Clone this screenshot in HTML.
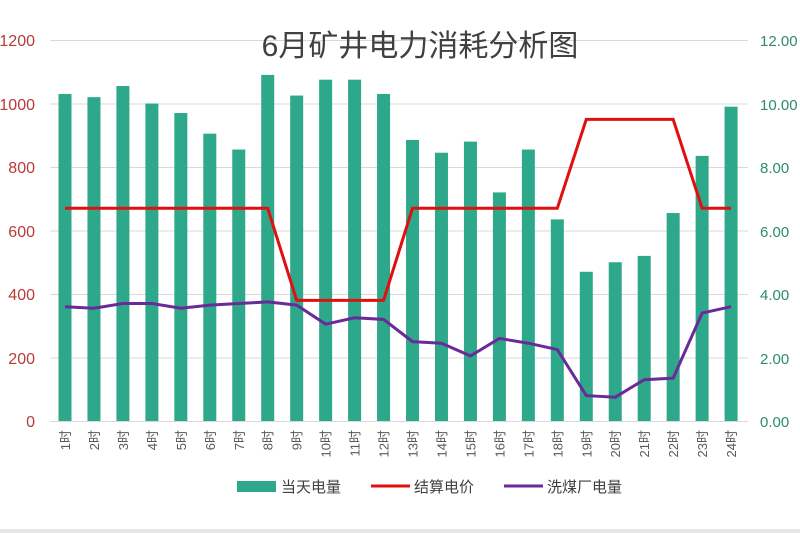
<!DOCTYPE html><html><head><meta charset="utf-8"><style>body{margin:0;background:#fff}svg{display:block}text{font-family:"Liberation Sans","Noto Sans CJK SC",sans-serif}</style></head><body>
<svg width="800" height="533" xmlns="http://www.w3.org/2000/svg">
<rect width="800" height="533" fill="#fff"/>
<rect x="0" y="529" width="800" height="4" fill="#e6e6e6"/>
<g stroke="#d9d9d9" stroke-width="1">
<line x1="50" x2="748" y1="40.5" y2="40.5"/><line x1="50" x2="748" y1="104" y2="104"/><line x1="50" x2="748" y1="167.5" y2="167.5"/><line x1="50" x2="748" y1="231" y2="231"/><line x1="50" x2="748" y1="294.5" y2="294.5"/><line x1="50" x2="748" y1="358" y2="358"/><line x1="50" x2="748" y1="421.5" y2="421.5"/>
</g>
<g font-size="16" fill="#b83a3a" text-anchor="end">
<text x="35" y="46">1200</text><text x="35" y="110">1000</text><text x="35" y="173">800</text><text x="35" y="237">600</text><text x="35" y="300">400</text><text x="35" y="364">200</text><text x="35" y="427">0</text>
</g>
<g font-size="15" fill="#2e8b6e">
<text x="760" y="46">12.00</text><text x="760" y="110">10.00</text><text x="760" y="173">8.00</text><text x="760" y="237">6.00</text><text x="760" y="300">4.00</text><text x="760" y="364">2.00</text><text x="760" y="427">0.00</text>
</g>
<text x="420" y="56" font-size="30" fill="#404040" text-anchor="middle">6月矿井电力消耗分析图</text>
<g id="bars" fill="#2ea88a"></g>
<g id="labels" font-size="13" fill="#595959"></g>
<polyline id="red" fill="none" stroke="#e01010" stroke-width="3"/>
<polyline id="pur" fill="none" stroke="#6a2a9a" stroke-width="3"/>
<rect x="237" y="481" width="39" height="11" fill="#2ea88a"/>
<text x="281" y="492" font-size="15" fill="#404040">当天电量</text>
<line x1="371" x2="410" y1="486" y2="486" stroke="#e01010" stroke-width="3"/>
<text x="414" y="492" font-size="15" fill="#404040">结算电价</text>
<line x1="504" x2="543" y1="486" y2="486" stroke="#6a2a9a" stroke-width="3"/>
<text x="547" y="492" font-size="15" fill="#404040">洗煤厂电量</text>
</svg>
<script>
var b=[1030,1020,1055,1000,970,905,855,1090,1025,1075,1075,1030,885,845,880,720,855,635,470,500,520,655,835,990];
var p=[6.7,6.7,6.7,6.7,6.7,6.7,6.7,6.7,3.8,3.8,3.8,3.8,6.7,6.7,6.7,6.7,6.7,6.7,9.5,9.5,9.5,9.5,6.7,6.7];
var q=[3.6,3.55,3.7,3.7,3.55,3.65,3.7,3.75,3.65,3.05,3.25,3.2,2.5,2.45,2.05,2.6,2.45,2.25,0.8,0.75,1.3,1.35,3.4,3.6];
var ns="http://www.w3.org/2000/svg",g=document.getElementById('bars'),L=document.getElementById('labels'),rp=[],pp=[];
for(var i=0;i<24;i++){var cx=65+i*28.96;var h=b[i]*381/1200;
var r=document.createElementNS(ns,'rect');r.setAttribute('x',cx-6.5);r.setAttribute('y',421-h);r.setAttribute('width',13);r.setAttribute('height',h);g.appendChild(r);
var t=document.createElementNS(ns,'text');t.setAttribute('transform','translate('+(cx+5)+',430) rotate(-90)');t.setAttribute('text-anchor','end');t.textContent=(i+1)+'时';L.appendChild(t);
rp.push(cx+','+(421-p[i]*381/12));pp.push(cx+','+(421-q[i]*381/12));}
document.getElementById('red').setAttribute('points',rp.join(' '));
document.getElementById('pur').setAttribute('points',pp.join(' '));
</script>
</body></html>
